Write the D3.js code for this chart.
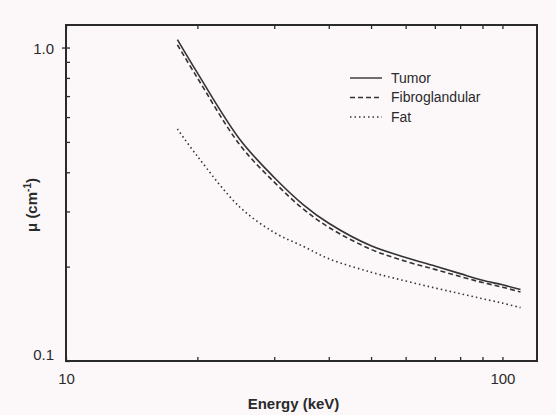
<!DOCTYPE html>
<html>
<head>
<meta charset="utf-8">
<script src="https://cdn.jsdelivr.net/npm/d3@7"></script>
<style>
  body { margin: 0; background: #fcf8fa; }
  svg { display: block; font-family: "Liberation Sans", Arial, Helvetica, sans-serif; }
</style>
</head>
<body>
<svg width="556" height="415"></svg>
<script>
// energies (keV) and attenuation coefficients (cm^-1)
const energy = [18, 20, 25, 30, 35, 40, 50, 60, 70, 80, 90, 100, 110];
const tumor = [1.06, 0.83, 0.51, 0.385, 0.315, 0.275, 0.233, 0.214, 0.201, 0.19, 0.181, 0.175, 0.169];
const fibro = [1.02, 0.80, 0.49, 0.372, 0.305, 0.267, 0.227, 0.208, 0.196, 0.186, 0.178, 0.172, 0.166];
const fat = [0.55, 0.45, 0.31, 0.257, 0.232, 0.212, 0.192, 0.180, 0.171, 0.164, 0.158, 0.153, 0.148];

const seriesNames = ["Tumor", "Fibroglandular", "Fat"];
const xTicks = [10, 20, 30, 40, 50, 60, 70, 80, 90, 100];
const yTicks = [0.1, 0.2, 0.3, 0.4, 0.5, 0.6, 0.7, 0.8, 0.9, 1.0];
const xLabels = [10, 100];
const yLabels = [0.1, 1.0];

const svg = d3.select("svg"),
    margin = {top: 25, right: 19, bottom: 54, left: 66},
    width = +svg.attr("width") - margin.left - margin.right,
    height = +svg.attr("height") - margin.top - margin.bottom,
    g = svg.append("g").attr("transform", "translate(" + margin.left + "," + margin.top + ")");

const x = d3.scaleLog().domain([10, 120]).range([0, width]);
const y = d3.scaleLog().domain([0.1, 1.18]).range([height, 0]);

const ink = "#2a2a2a";

// bottom axis, ticks pointing up
g.append("g")
    .attr("transform", "translate(0," + height + ")")
    .call(d3.axisBottom(x).tickValues(xTicks).tickSize(-4).tickPadding(12)
        .tickFormat(d => xLabels.includes(d) ? d : ""))
    .call(a => a.select(".domain").remove())
    .call(a => a.selectAll("text").attr("font-size", 15).attr("fill", ink))
    .call(a => a.selectAll("line").attr("stroke", ink).attr("stroke-width", 1.3));

// top axis, ticks pointing down
g.append("g")
    .call(d3.axisTop(x).tickValues(xTicks).tickSize(-4).tickFormat(""))
    .call(a => a.select(".domain").remove())
    .call(a => a.selectAll("line").attr("stroke", ink).attr("stroke-width", 1.3));

// left axis, minor ticks inward, major ticks crossing
g.append("g")
    .call(d3.axisLeft(y).tickValues(yTicks).tickSize(-4).tickPadding(12)
        .tickFormat(d => yLabels.includes(d) ? d3.format(".1f")(d) : ""))
    .call(a => a.select(".domain").remove())
    .call(a => a.selectAll("text").attr("font-size", 15).attr("fill", ink)
        .attr("dy", d => d === 0.1 ? "-0.1em" : "0.4em"))
    .call(a => a.selectAll("line").attr("stroke", ink).attr("stroke-width", 1.3)
        .attr("x1", d => d === 1.0 ? -4 : 0));

// frame
g.append("rect")
    .attr("width", width)
    .attr("height", height)
    .attr("fill", "none")
    .attr("stroke", ink)
    .attr("stroke-width", 2);

const line = d3.line()
    .x((d, i) => x(energy[i]))
    .y(d => y(d))
    .curve(d3.curveCatmullRom.alpha(0.5));

const styles = [
    {data: tumor, dash: null, w: 1.6},
    {data: fibro, dash: "5,3", w: 1.6},
    {data: fat, dash: "1.5,3", w: 1.6}
];

styles.forEach(s => {
    g.append("path")
        .datum(s.data)
        .attr("d", line)
        .attr("fill", "none")
        .attr("stroke", "#333")
        .attr("stroke-width", s.w)
        .attr("stroke-dasharray", s.dash);
});

// legend
const legend = g.append("g").attr("transform", "translate(284,53)");
styles.forEach((s, i) => {
    const row = legend.append("g").attr("transform", "translate(0," + (i * 19.5) + ")");
    row.append("line")
        .attr("x1", 0).attr("x2", 32)
        .attr("stroke", "#333")
        .attr("stroke-width", 1.4)
        .attr("stroke-dasharray", s.dash);
    row.append("text")
        .attr("x", 41)
        .attr("dy", "0.35em")
        .attr("font-size", 14)
        .attr("fill", ink)
        .text(seriesNames[i]);
});

// axis titles
svg.append("text")
    .attr("x", margin.left + x(Math.sqrt(10 * 120)) - 8)
    .attr("y", 409)
    .attr("text-anchor", "middle")
    .attr("font-size", 15)
    .attr("font-weight", "bold")
    .attr("fill", ink)
    .text("Energy (keV)");

const yt = svg.append("text")
    .attr("transform", "translate(37,205) rotate(-90)")
    .attr("text-anchor", "middle")
    .attr("font-size", 15)
    .attr("font-weight", "bold")
    .attr("fill", ink);
yt.append("tspan").text("\u03bc (cm");
yt.append("tspan").attr("font-size", 10).attr("dy", "-0.6em").text("-1");
yt.append("tspan").attr("dy", "0.4em").text(")");
</script>
</body>
</html>
